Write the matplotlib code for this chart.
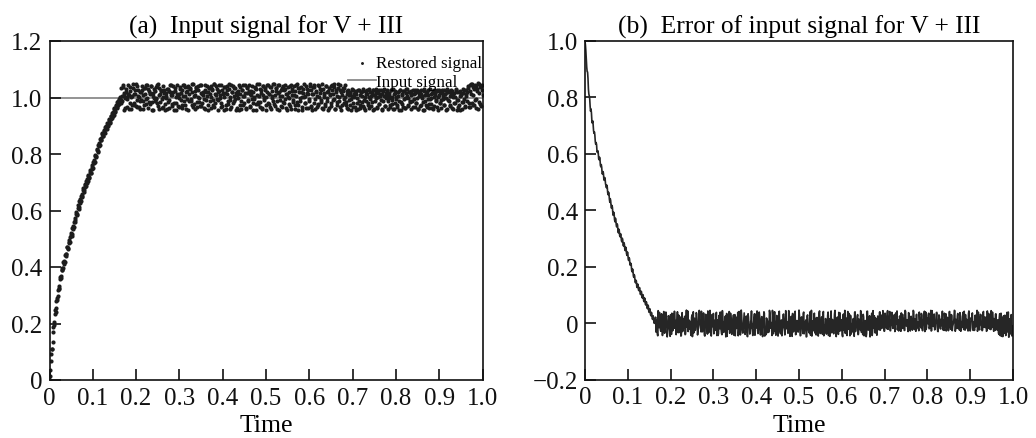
import numpy as np
import matplotlib
matplotlib.use('Agg')
import matplotlib.pyplot as plt

plt.rcParams['font.family'] = ['Liberation Serif', 'DejaVu Serif']

# ---- data (in thousandths) ----
# samples at t = 0, 0.002, ..., 1.0
rise_milli_a = [
    0, 35, 92, 110, 171, 195, 232, 241, 281, 283,
    318, 322, 356, 360, 391, 389, 418, 412, 441, 438,
    470, 463, 489, 484, 507, 520, 518, 545, 541, 572,
    566, 593, 589, 618, 612, 641, 633, 659, 652, 680,
    671, 694, 688, 712, 703, 727, 720, 743, 733, 760,
    751, 778, 772, 795, 793, 818, 812, 838, 833, 857,
    851, 874, 863, 885, 876, 899, 889, 911, 902, 924,
    913, 936, 927, 949, 939, 962, 951, 974, 965, 987,
    978, 1001, 990,
]

plateau_dev_milli_a = [
    32, -12, 45, 8, -38, 21, 3, -5, 14, -41, 36, 2, -27, 49, 11, -19, 28, -30, 40, 5,
    -33, 18, -14, -9, 25, -40, 34, 12, -22, 46, -3, 30, -16, 16, 41, -15, 7, -43, 0, 22,
    -6, 44, -29, 10, 35, -17, 24, -37, 3, 27, -24, -1, 15, -42, 31, -8, 20, 46, -31, 9,
    39, -20, 24, -45, 13, 6, -1, -34, 29, 17, -26, 44, -11, 37, 6, -39, 23, 41, -14, 33,
    -4, -25, 19, 47, -23, 10, 36, -35, 26, 1, -16, 43, -30, 14, 19, -7, 45, -41, 21, 4,
    -28, 35, 12, -36, 40, 26, -10, 48, -21, 8, 31, -8, 18, 44, -2, -33, 27, 11, -43, 37,
    15, -25, 42, -12, 29, 3, -40, 46, 20, -18, 34, -6, 17, -36, 9, 24, -45, 38, -13, 28,
    43, -27, 6, 17, -42, 33, -9, 45, 13, -32, 22, -4, -19, 2, 36, -44, 30, 8, -24, 47,
    -15, 25, -37, 41, 10, -3, 32, -46, 19, 44, -22, 14, -34, 38, 5, -11, 48, -29, 23, 35,
    -40, 16, 46, -8, 27, -35, 4, 42, -20, 31, 12, -43, 37, -1, 21, -30, 45, 9, -16, 39,
    24, -39, 7, 47, -26, 34, -13, 18, 1, -45, 29, 1, -21, 40, 15, -36, 26, -5, 48, -32,
    11, 36, -18, 44, -41, 22, 6, -28, 39, 17, -10, 26, -38, 30, 3, -23, 41, -14, 20, -44,
    33, 9, -31, 45, 14, -7, 37, -42, 25, -17, 49, 2, -35, 28, 18, -26, 35, -4, 43, -25,
    12, -38, 25, -9, 18, -44, 5, 28, -21, 14, -33, 22, -2, -41, 27, 8, -27, 19, -15, 30,
    -36, 3, 24, -12, 11, -19, 29, -6, -31, 16, 26, -45, 9, -12, 21, -37, 1, 28, -24, 13,
    -8, -40, 23, 6, -29, 17, -3, 27, -14, 10, -34, 25, 2, -22, 30, -39, 15, -4, -28, 20,
    7, -45, 26, -17, 12, -32, 22, -1, -38, 29, 4, -25, 18, -13, 9, 24, -11, -35, 14, 28,
    -20, -3, 21, -41, 16, -30, 27, 5, -15, -44, 23, 10, -26, 19, -7, -37, 29, 0, -23, 15,
    -42, 25, 8, -13, 22, -34, 3, 28, -19, -10, 17, -5, 26, -28, 11, -45, 20, -10, 24, -31,
    6, 27, -36, 14, -21, 1, 29, -43, 18, -8, -27, 23, 9, -39, 16, -16, 26, -33, 4, 21,
    35, -18, 44, -35, 12, 48, -26, 30, -8, 41, -38, 22, 50, -15, 38, -30, 46, 10,
]

# samples at t = 0.001, 0.003, ..., 0.999
rise_milli_b = [
    14, 66, 108, 133, 188, 205, 249, 254, 291, 296,
    327, 333, 366, 367, 395, 398, 421, 419, 446, 447,
    472, 468, 494, 489, 512, 511, 538, 536, 561, 559,
    586, 583, 610, 607, 633, 628, 652, 648, 673, 667,
    690, 683, 706, 699, 722, 715, 738, 731, 754, 748,
    773, 768, 793, 788, 813, 808, 833, 828, 853, 848,
    871, 862, 883, 874, 896, 887, 908, 899, 920, 911,
    933, 924, 945, 936, 958, 949, 970, 962, 983, 974,
    996, 987,
]

plateau_dev_milli_b = [
    -21, 7, 38, -44, 16, -2, 29, -33, 44, 10, -18, 23, -39, 4, 35, -26, 13, 47, -9, -35,
    27, 1, -42, 19, 41, -13, 8, -28, 33, -5, 45, -37, 22, 12, -24, 39, -46, 15, 30, -11,
    -1, 36, -20, 48, -40, 11, 26, -7, -32, 42, 17, -45, 5, 31, -15, 24, -36, 43, 9, -23,
    18, -43, 34, 2, -19, 46, -30, 13, 38, -10, 25, -38, 7, 44, -27, 20, -4, 37, -44, 14,
    29, -12, 49, -34, 6, 22, -41, 32, -17, 40, 0, -29, 15, 45, -21, 10, -38, 27, -8, 42,
    -46, 19, 35, -14, 3, 30, -25, 47, -33, 12, 39, -6, -43, 23, 8, -18, 43, -31, 17, 2,
    36, -39, 11, 26, -23, 48, -8, -35, 21, 41, -14, 5, 33, -45, 18, -2, 44, -26, 13, -40,
    28, 4, -20, 46, -37, 15, 38, -11, 24, -30, 9, 42, -44, 20, -5, 34, -22, 47, -16, 6,
    -34, 31, 16, -42, 40, -9, 25, 1, -28, 45, -19, 12, 37, -39, 22, -3, 49, -24, 10, 32,
    -13, 43, -45, 18, 7, -31, 35, -17, 27, -6, 46, -36, 14, 3, -22, 40, -41, 23, 30, -10,
    9, -27, 44, -15, 33, -43, 21, -1, 38, -32, 16, 48, -20, 6, -38, 29, 11, -12, 42, -29,
    25, -45, 13, 37, -7, 20, -34, 45, -24, 2, 31, -16, 47, -40, 17, 8, -30, 39, -3, 24,
    -37, 14, 41, -21, 28, -9, 48, -42, 19, 4, -26, 35, -13, 44, -44, 10, 23, -18, 32, 1,
    -17, 24, -40, 8, -28, 16, -6, 29, -35, 3, 20, -44, 11, -21, 27, -12, -38, 18, 4, -30,
    22, -9, -43, 13, 28, -25, 1, -36, 19, 7, -16, 26, -41, 10, -3, 30, -33, 15, -22, 5,
    25, -45, 12, -14, 29, -31, 6, 21, -39, -1, 17, -27, 27, -8, -42, 14, 23, -19, 2, -35,
    19, -11, 28, -44, 9, -24, 24, -4, -37, 15, 30, -29, 0, 21, -15, -42, 11, 26, -7, -33,
    16, -20, 27, -40, 5, 22, -26, 12, -2, -45, 29, -13, 18, -34, 8, 25, -23, -5, 14, -38,
    23, 3, -30, 17, -10, 28, -43, 10, 20, -18, -36, 26, 6, -25, 13, -1, 29, -39, 19, -12,
    -28, 11, 24, -41, 2, 16, -21, 27, -8, -34, 21, 7, -44, 15, -17, 29, -5, -31, 12, 25,
    -12, 40, -33, 22, 47, -20, 8, 36, -28, 44, -5, 31, -39, 49, 15, -24, 42, 28,
]

input_level = 1.0

x_ticks = [0, 0.1, 0.2, 0.3, 0.4, 0.5, 0.6, 0.7, 0.8, 0.9, 1.0]
x_tick_labels = ['0', '0.1', '0.2', '0.3', '0.4', '0.5', '0.6', '0.7', '0.8', '0.9', '1.0']
ya_ticks = [0, 0.2, 0.4, 0.6, 0.8, 1.0, 1.2]
ya_tick_labels = ['0', '0.2', '0.4', '0.6', '0.8', '1.0', '1.2']
yb_ticks = [-0.2, 0, 0.2, 0.4, 0.6, 0.8, 1.0]
yb_tick_labels = ['\u22120.2', '0', '0.2', '0.4', '0.6', '0.8', '1.0']

title_a = '(a)  Input signal for V + III'
title_b = '(b)  Error of input signal for V + III'
xlabel = 'Time'
legend_labels = ['Restored signal', 'Input signal']

# ---- derived series ----
vals_a = np.array(rise_milli_a + [1000 + d for d in plateau_dev_milli_a]) / 1000.0
vals_b = np.array(rise_milli_b + [1000 + d for d in plateau_dev_milli_b]) / 1000.0
t_a = np.linspace(0, 1, len(vals_a))
t_b = np.linspace(0.001, 0.999, len(vals_b))
t = np.concatenate([t_a, t_b])
restored = np.concatenate([vals_a, vals_b])
order = np.argsort(t)
t = t[order]
restored = restored[order]
input_signal = np.full_like(t, input_level)
error = input_signal - restored

# ---- figure ----
W, H = 1036, 439
fig = plt.figure(figsize=(W / 100, H / 100), dpi=100)
ax1 = fig.add_axes([49.5 / W, 1 - 381 / H, 433 / W, 339 / H])
ax2 = fig.add_axes([585 / W, 1 - 380.5 / H, 428 / W, 338.5 / H])

tick_fs = 18
for ax in (ax1, ax2):
    ax.set_xlim(0, 1)
    ax.set_xticks(x_ticks)
    ax.set_xticklabels(x_tick_labels)
    ax.tick_params(direction='in', length=8, width=1.2, labelsize=tick_fs,
                   top=False, right=False, pad=5, colors='#111111')
    for sp in ax.spines.values():
        sp.set_linewidth(1.2)
        sp.set_color('#111111')
    ax.set_xlabel(xlabel, fontsize=18.5, labelpad=4)

# panel (a)
ax1.plot(t, input_signal, color='#8a8a8a', lw=1.3, zorder=1, label=legend_labels[1])
ax1.scatter(t, restored, s=9, color='#1c1c1c', linewidths=0, zorder=2,
            label=legend_labels[0])
ax1.set_ylim(0, 1.2)
ax1.set_yticks(ya_ticks)
ax1.set_yticklabels(ya_tick_labels)
ax1.set_title(title_a, fontsize=18.4, pad=6)
h, l = ax1.get_legend_handles_labels()
leg = ax1.legend([h[1], h[0]], [l[1], l[0]], loc='upper right',
                 bbox_to_anchor=(1.0, 0.958), frameon=False, fontsize=12.3,
                 handlelength=1.6, handletextpad=0.05, labelspacing=0.15,
                 borderpad=0, borderaxespad=0, markerscale=0.7)

# panel (b)
ax2.plot(t, error, color='#262626', lw=1.2)
ax2.set_ylim(-0.2, 1.0)
ax2.set_yticks(yb_ticks)
ax2.set_yticklabels(yb_tick_labels)
ax2.set_title(title_b, fontsize=18.4, pad=6)

fig.savefig('out.png', dpi=100)
